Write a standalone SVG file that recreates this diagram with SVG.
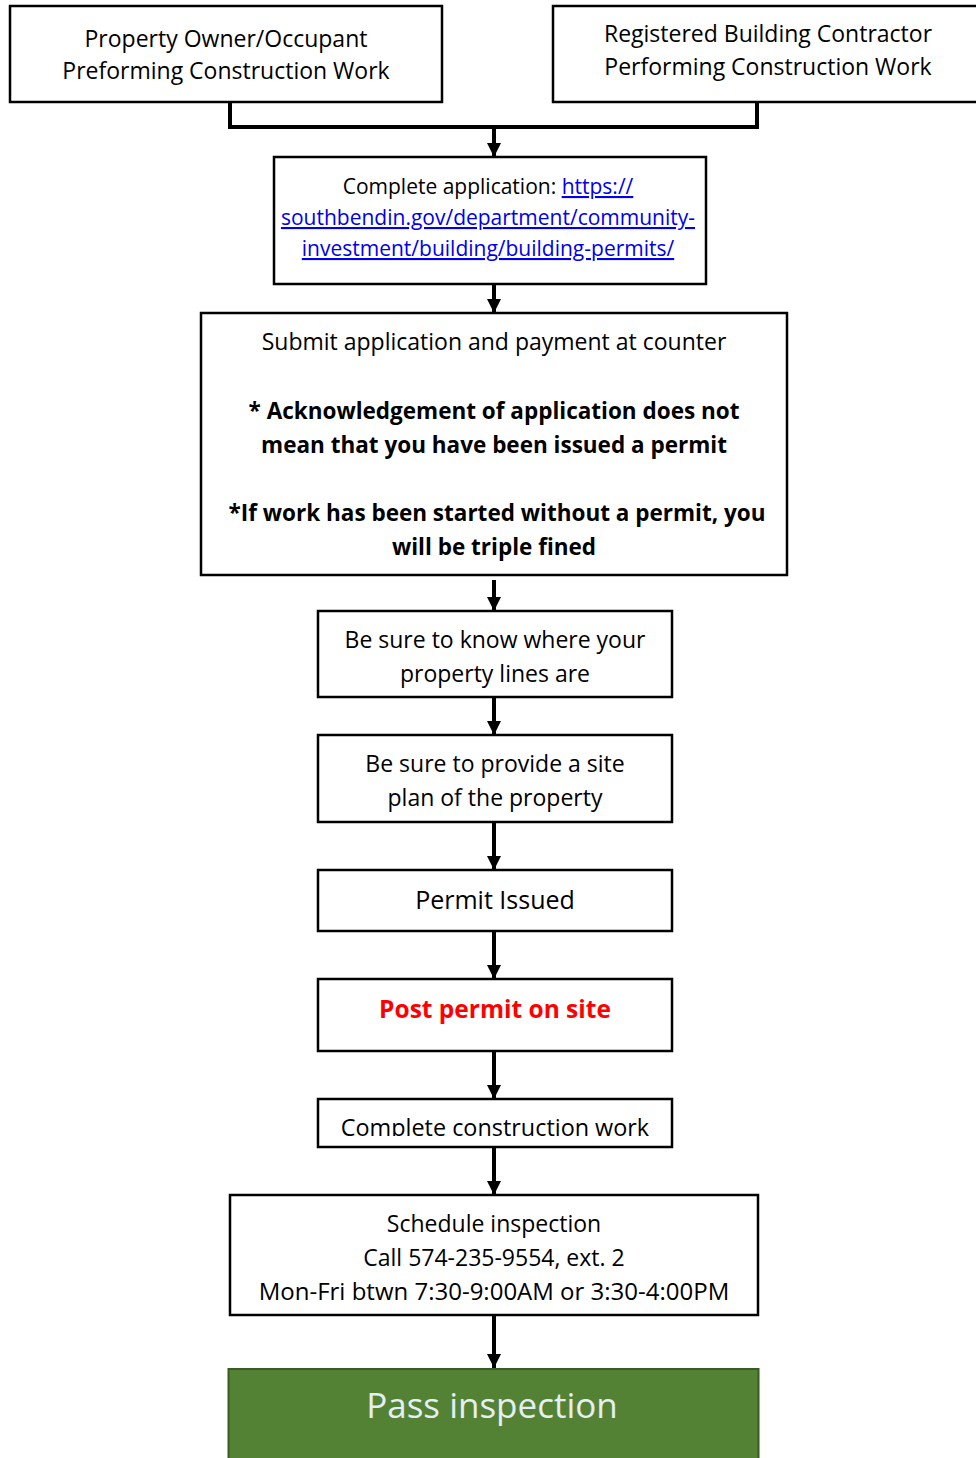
<svg xmlns="http://www.w3.org/2000/svg" width="976" height="1458" viewBox="0 0 976 1458">
<style>
.box{fill:#fff;stroke:#000;stroke-width:2.5}
.t{font-family:"Open Sans","Noto Sans",sans-serif;font-size:23px;fill:#000;text-anchor:middle}
.s{font-size:21px}
.b{font-weight:bold;font-size:22.5px}
.link{fill:#0000ee;text-decoration:underline}
.con{stroke:#000;stroke-width:4;fill:none}
</style>
<defs>
<marker id="ah" viewBox="0 0 14 14" markerWidth="14" markerHeight="14" refX="14" refY="7" orient="auto" markerUnits="userSpaceOnUse">
<path d="M0,0 L14,7 L0,14 Z" fill="#000"/>
</marker>
<clipPath id="c9"><rect x="318" y="1099" width="354" height="37"/></clipPath>
</defs>
<rect width="976" height="1458" fill="#fff"/>
<g id="connectors">
<path class="con" d="M230,102 V127 H757 V102"/>
<path class="con" d="M494,127 V157" marker-end="url(#ah)"/>
<path class="con" d="M494,279 V313" marker-end="url(#ah)"/>
<path class="con" d="M494,580 V611" marker-end="url(#ah)"/>
<path class="con" d="M494,697 V735" marker-end="url(#ah)"/>
<path class="con" d="M494,822 V870" marker-end="url(#ah)"/>
<path class="con" d="M494,931 V979" marker-end="url(#ah)"/>
<path class="con" d="M494,1051 V1099" marker-end="url(#ah)"/>
<path class="con" d="M494,1147 V1195" marker-end="url(#ah)"/>
<path class="con" d="M494,1315 V1368" marker-end="url(#ah)"/>
</g>
<g id="owner">
<rect class="box" x="10" y="6" width="432" height="96"/>
<text class="t" x="226" y="47">Property Owner/Occupant</text>
<text class="t" x="226" y="79">Preforming Construction Work</text>
</g>
<g id="contractor">
<rect class="box" x="553" y="6" width="430" height="96"/>
<text class="t" x="768" y="42">Registered Building Contractor</text>
<text class="t" x="768" y="75">Performing Construction Work</text>
</g>
<g id="complete-application">
<rect class="box" x="274" y="157" width="432" height="127"/>
<text class="t s" x="488" y="194">Complete application: <tspan class="link">https://</tspan></text>
<text class="t s link" x="488" y="225">southbendin.gov/department/community-</text>
<text class="t s link" x="488" y="256">investment/building/building-permits/</text>
</g>
<g id="submit">
<rect class="box" x="201" y="313" width="586" height="262"/>
<text class="t" x="494" y="350">Submit application and payment at counter</text>
<text class="t b" x="494" y="419">* Acknowledgement of application does not</text>
<text class="t b" x="494" y="453">mean that you have been issued a permit</text>
<text class="t b" x="497" y="521">*If work has been started without a permit, you</text>
<text class="t b" x="494" y="555">will be triple fined</text>
</g>
<g id="property-lines">
<rect class="box" x="318" y="611" width="354" height="86"/>
<text class="t" x="495" y="648">Be sure to know where your</text>
<text class="t" x="495" y="682">property lines are</text>
</g>
<g id="site-plan">
<rect class="box" x="318" y="735" width="354" height="87"/>
<text class="t" x="495" y="772">Be sure to provide a site</text>
<text class="t" x="495" y="806">plan of the property</text>
</g>
<g id="permit-issued">
<rect class="box" x="318" y="870" width="354" height="61"/>
<text class="t" x="495" y="909" style="font-size:25px">Permit Issued</text>
</g>
<g id="post-permit">
<rect class="box" x="318" y="979" width="354" height="72"/>
<text class="t b" x="495" y="1018" style="font-size:24.5px;fill:#ff0000">Post permit on site</text>
</g>
<g id="complete-work">
<rect class="box" x="318" y="1099" width="354" height="48"/>
<text class="t" x="495" y="1136" clip-path="url(#c9)" style="font-size:23.4px">Complete construction work</text>
</g>
<g id="schedule">
<rect class="box" x="230" y="1195" width="528" height="120"/>
<text class="t" x="494" y="1232">Schedule inspection</text>
<text class="t" x="494" y="1266">Call 574-235-9554, ext. 2</text>
<text class="t" x="494" y="1300" style="font-size:24px">Mon-Fri btwn 7:30-9:00AM or 3:30-4:00PM</text>
</g>
<g id="pass">
<rect x="228.5" y="1369" width="530" height="95" fill="#548235" stroke="#3a5a26" stroke-width="2"/>
<text class="t" x="492" y="1418" style="font-size:35px;fill:#e4eef4">Pass inspection</text>
</g>
</svg>
